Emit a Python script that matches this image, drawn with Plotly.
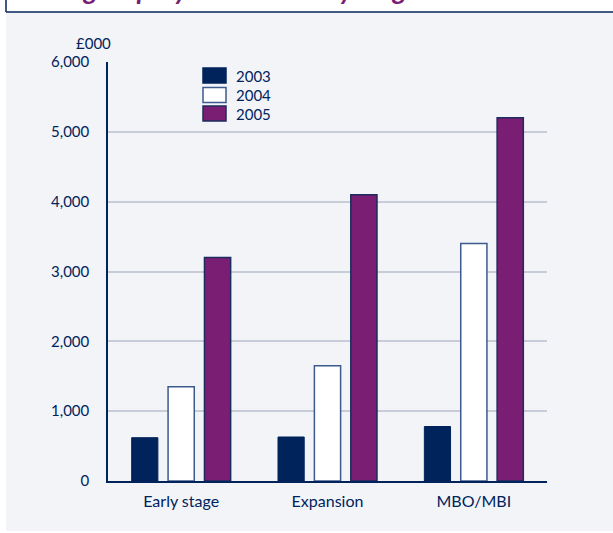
import plotly.graph_objects as go

# Average investment size, £000
stages = ["Early stage", "Expansion", "MBO/MBI"]
years = ["2003", "2004", "2005"]
values_2003 = [620, 630, 780]
values_2004 = [1350, 1650, 3400]
values_2005 = [3200, 4100, 5200]
y_ticks = [0, 1000, 2000, 3000, 4000, 5000, 6000]

W, H = 613, 533
NAVY = "#00235b"
PURPLE = "#791e73"
PANEL = "#f2f4f8"
GRID = "#c6cdd9"
FONT = "Lato"

# plot area in pixels
x0, x1 = 108, 547
y_top, y_base = 62, 481


def px(x):
    return x / W


def py(y):
    return 1 - y / H


series = [
    (years[0], values_2003, NAVY, NAVY, 1),
    (years[1], values_2004, "#ffffff", "#3d5a8c", 1.5),
    (years[2], values_2005, PURPLE, "#1e2b5e", 1.5),
]

fig = go.Figure()
for name, vals, fill, edge, lw in series:
    fig.add_trace(go.Bar(
        x=stages, y=vals, name=name,
        marker=dict(color=fill, line=dict(color=edge, width=lw)),
        showlegend=False, hoverinfo="x+y+name",
    ))

shapes = [
    # grey panel behind the chart
    dict(type="rect", xref="paper", yref="paper", layer="below",
         x0=px(6), x1=px(W + 2), y0=py(531), y1=py(13),
         fillcolor=PANEL, line=dict(width=0)),
    # title box edges
    dict(type="line", xref="paper", yref="paper", layer="above",
         x0=px(6), x1=px(W + 2), y0=py(12), y1=py(12),
         line=dict(color=NAVY, width=1.5)),
    dict(type="line", xref="paper", yref="paper", layer="above",
         x0=px(6), x1=px(6), y0=py(12), y1=py(-2),
         line=dict(color=NAVY, width=1.5)),
]

annotations = [
    dict(text="Average equity investment by stage", xref="paper", yref="paper",
         x=px(14), y=py(-10.5), xanchor="left", yanchor="middle", showarrow=False,
         font=dict(family=FONT, size=27, color=PURPLE, style="italic", weight="bold")),
    dict(text="£000", xref="paper", yref="paper", x=px(113), y=py(43),
         xanchor="right", yanchor="middle", showarrow=False,
         font=dict(family=FONT, size=15, color=NAVY)),
]

# legend keys
legend_rows = [75.5, 95, 113.5]
for (name, vals, fill, edge, lw), yc in zip(series, legend_rows):
    shapes.append(dict(type="rect", xref="paper", yref="paper",
                       x0=px(203), x1=px(226), y0=py(yc + 7.5), y1=py(yc - 7.5),
                       fillcolor=fill, line=dict(color=edge if name != "2003" else NAVY, width=1.5)))
    annotations.append(dict(text=name, xref="paper", yref="paper", x=px(234), y=py(yc),
                            xanchor="left", yanchor="middle", showarrow=False,
                            font=dict(family=FONT, size=15, color=NAVY)))

fig.update_layout(
    width=W, height=H,
    margin=dict(l=0, r=0, t=0, b=0, autoexpand=False),
    paper_bgcolor="#ffffff", plot_bgcolor=PANEL,
    barmode="group", bargap=0.254, bargroupgap=0.28,
    shapes=shapes, annotations=annotations,
    font=dict(family=FONT, color=NAVY),
    xaxis=dict(domain=[px(x0), px(x1)], showline=True, linecolor=NAVY, linewidth=1.5,
               showgrid=False, ticks="", tickfont=dict(size=16, color=NAVY),
               ticklabelstandoff=5, automargin=False, fixedrange=True),
    yaxis=dict(domain=[py(y_base), py(y_top)], range=[0, 6000], tickvals=y_ticks,
               tickformat=",d", showline=True, linecolor=NAVY, linewidth=1.5,
               showgrid=True, gridcolor=GRID, gridwidth=1.5, zeroline=False,
               ticks="", tickfont=dict(size=15, color=NAVY), ticklabelstandoff=14,
               automargin=False, fixedrange=True),
)

fig.write_html("out.html")
